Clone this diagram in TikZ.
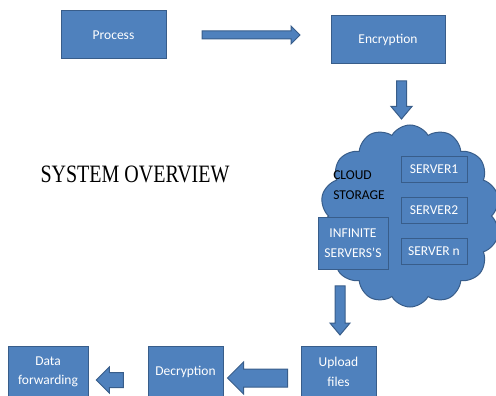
\documentclass[tikz,border=0pt]{standalone}
\usepackage{fontspec}
\setmainfont{Carlito}
\newfontfamily\titlefont[FakeStretch=0.8]{Liberation Serif}
\usetikzlibrary{shapes.symbols,shapes.arrows}
\definecolor{boxblue}{HTML}{4F81BD}
\definecolor{boxedge}{HTML}{385D8A}
\tikzset{
  blockbox/.style={draw=boxedge, fill=boxblue, line width=1pt, text=white,
    align=center, inner sep=1pt},
  blockarrow/.style={single arrow, draw=boxedge, fill=boxblue, line width=1pt,
    inner xsep=0pt},
  cloudbox/.style={cloud, cloud puffs=14, cloud puff arc=120, aspect=1,
    cloud ignores aspect, draw=boxedge, fill=boxblue, line width=1pt}
}
\begin{document}
\begin{tikzpicture}[x=1pt,y=-1pt, font=\fontsize{13.5}{19.5}\selectfont]
  \useasboundingbox (0,0) rectangle (496,396);
  % top row
  \node[blockbox, minimum width=105pt, minimum height=48pt] (proc) at (113.5,35) {Process};
  \node[blockbox, minimum width=114pt, minimum height=48pt] (enc) at (388,40) {Encryption};
  \node[blockarrow, inner ysep=3.5pt, minimum height=98pt, single arrow head extend=5pt] (a1) at (249,35) {};
  \node[blockarrow, rotate=-90, inner ysep=4.5pt, minimum height=38pt, single arrow head extend=5.5pt, single arrow tip angle=80] (a2) at (401.5,97) {};
  % cloud with servers
  \node[cloudbox, minimum width=180pt, minimum height=182pt] (cloud) at (410,216) {};
  \node[align=left] (store) at (359,185) {CLOUD\\STORAGE};
  \node[blockbox, minimum width=66pt, minimum height=26pt] (srv1) at (434,169) {SERVER1};
  \node[blockbox, minimum width=66pt, minimum height=26pt] (srv2) at (434,210) {SERVER2};
  \node[blockbox, minimum width=66pt, minimum height=26pt] (srvn) at (434,251) {SERVER n};
  \node[blockbox, minimum width=70pt, minimum height=52pt] (inf) at (353,243) {INFINITE\\SERVERS’S};
  \node[blockarrow, rotate=-90, inner ysep=4.5pt, minimum height=49pt, single arrow head extend=5pt, single arrow tip angle=80] (a3) at (340,307.5) {};
  % bottom row
  \node[blockbox, minimum width=75pt, minimum height=52pt] (upl) at (338.5,372) {Upload\\files};
  \node[blockbox, minimum width=75pt, minimum height=52pt] (dec) at (185.5,372) {Decryption};
  \node[blockbox, minimum width=80pt, minimum height=52pt] (fwd) at (48,372) {Data\\forwarding};
  \node[blockarrow, rotate=180, inner ysep=8.5pt, minimum height=60pt, single arrow head extend=7pt] (a4) at (262,378) {};
  \node[blockarrow, rotate=180, inner ysep=7pt, minimum height=27pt, single arrow head extend=5.5pt] (a5) at (113.5,380) {};
  % title
  \node (title) at (135,174) {\titlefont\fontsize{25}{25}\selectfont SYSTEM OVERVIEW};
\end{tikzpicture}
\end{document}
